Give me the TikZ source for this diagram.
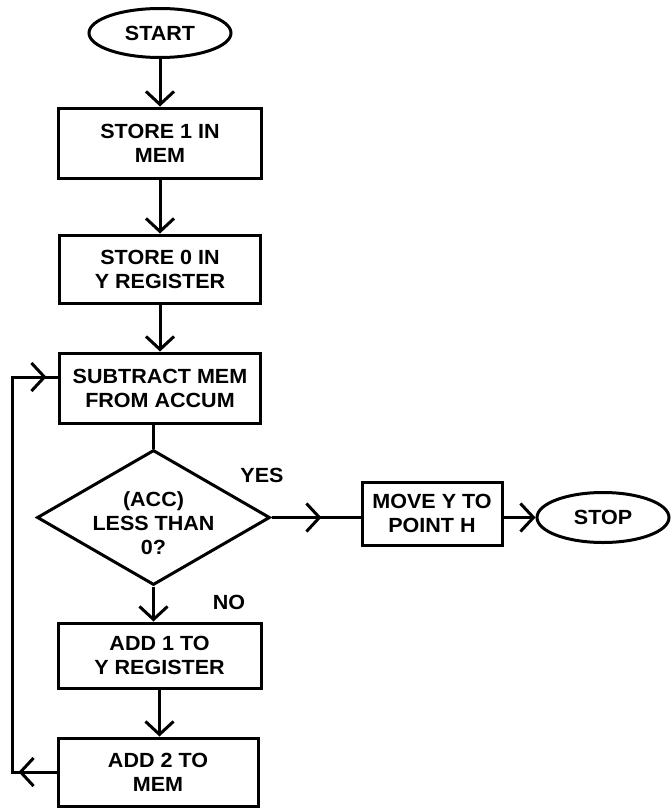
\documentclass[tikz,border=0pt]{standalone}
\usepackage{fontspec}
\setmainfont{Liberation Sans}[FakeStretch=1.05]
\usetikzlibrary{shapes.geometric,arrows.meta,decorations.markings}
\begin{document}
\begin{tikzpicture}[x=1pt,y=-1pt, line width=3pt,
  >={Straight Barb[length=13pt,width=28pt]},
  font=\fontsize{20.5}{24}\selectfont\bfseries,
  box/.style={draw, rectangle, align=center, inner sep=0pt},
  term/.style={draw, ellipse, inner sep=0pt},
  dec/.style={draw, diamond, align=center, inner sep=0pt, minimum width=233pt, minimum height=135pt, aspect=1.73},
  arr/.style={->},
  midarr/.style={postaction={decorate}, decoration={markings, mark=at position #1 with {\arrow{>}}}},
  lbl/.style={inner sep=0pt}]
\useasboundingbox (0,0) rectangle (671,808);
\node[term, minimum width=142pt, minimum height=49pt] (start) at (160,33) {START};
\node[box, minimum width=203pt, minimum height=70pt] (s1) at (160,143) {STORE 1 IN\\MEM};
\node[box, minimum width=201pt, minimum height=68pt] (s0) at (160,269) {STORE 0 IN\\Y REGISTER};
\node[box, minimum width=201pt, minimum height=70pt] (sub) at (160,388) {SUBTRACT MEM\\FROM ACCUM};
\node[dec, label={[lbl, align=center, yshift=-6pt]center:{(ACC)\\LESS THAN\\0?}}] (dia) at (153.5,517.5) {};
\node[box, minimum width=203pt, minimum height=65pt] (add1) at (159.5,655.5) {ADD 1 TO\\Y REGISTER};
\node[box, minimum width=200pt, minimum height=68pt] (add2) at (158,772) {ADD 2 TO\\MEM};
\node[box, minimum width=140pt, minimum height=63pt] (move) at (432,513.5) {MOVE Y TO\\POINT H};
\node[term, minimum width=132pt, minimum height=50pt] (stop) at (603,517.5) {STOP};
\node[lbl] (yes) at (262,475) {YES};
\node[lbl] (no) at (229,602) {NO};
\coordinate (lb) at (12,772);
\coordinate (lt) at (12,377);
\draw[arr] (start.south) -- (s1.north);
\draw[arr] (s1.south) -- (s0.north);
\draw[arr] (s0.south) -- (sub.north);
\draw (sub.south -| dia.north) -- (dia.north);
\draw[arr] (dia.south) -- (dia.south |- add1.north);
\draw[arr] (add1.south) -- (add1.south |- add2.north);
\draw[postaction={decorate}, decoration={markings,
    mark=at position 38pt with {\arrow{>}},
    mark=at position 474pt with {\arrow{>}}}]
  (add2.west) -- (lb) -- (lt) -- (lt -| sub.west);
\draw[midarr=50pt] (dia.east) -- (dia.east -| move.west);
\draw[arr] (dia.east -| move.east) -- (stop.west);
\end{tikzpicture}
\end{document}
